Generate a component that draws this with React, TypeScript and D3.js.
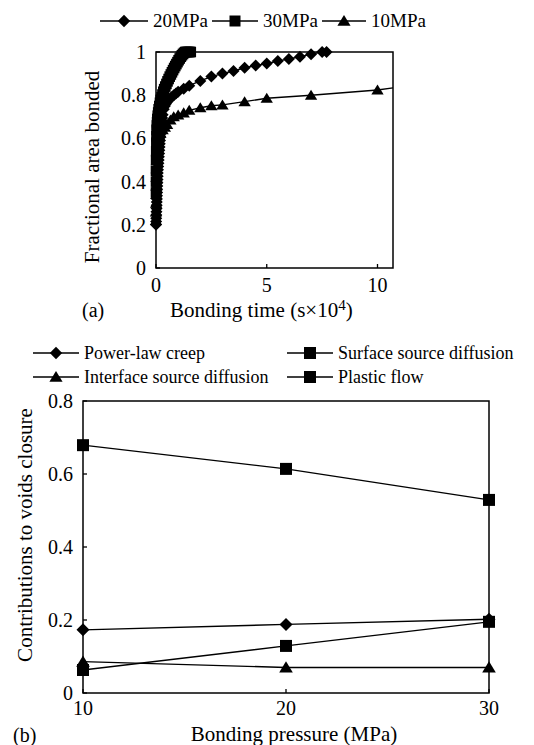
import React from "react";
import * as d3 from "d3";

// ---------- Panel (a) data ----------
const t20 = [0, 0.005, 0.01, 0.015, 0.02, 0.025, 0.03, 0.035, 0.04, 0.045, 0.05, 0.055, 0.06, 0.065, 0.07, 0.075, 0.08, 0.09, 0.1, 0.11, 0.12, 0.13, 0.14, 0.15, 0.16, 0.17, 0.18, 0.19, 0.2, 0.215, 0.23, 0.245, 0.26, 0.28, 0.3, 0.35, 0.4, 0.45, 0.5, 0.6, 0.7, 0.8, 0.9, 1.0, 1.25, 1.5, 2.0, 2.5, 3.0, 3.5, 4.0, 4.5, 5.0, 5.5, 6.0, 6.5, 7.0, 7.5, 7.7];
const f20 = [0.2, 0.215, 0.23, 0.245, 0.26, 0.275, 0.29, 0.305, 0.32, 0.335, 0.35, 0.365, 0.38, 0.395, 0.41, 0.425, 0.44, 0.455, 0.47, 0.485, 0.5, 0.515, 0.53, 0.545, 0.56, 0.575, 0.59, 0.605, 0.62, 0.635, 0.65, 0.665, 0.68, 0.695, 0.71, 0.735, 0.75, 0.76, 0.77, 0.78, 0.79, 0.8, 0.808, 0.816, 0.83, 0.844, 0.866, 0.886, 0.9, 0.912, 0.927, 0.937, 0.947, 0.958, 0.968, 0.978, 0.99, 1.0, 1.0];

const t30 = [0, 0, 0, 0.005, 0.01, 0.015, 0.02, 0.03, 0.04, 0.05, 0.06, 0.08, 0.1, 0.12, 0.15, 0.18, 0.21, 0.25, 0.29, 0.33, 0.37, 0.42, 0.47, 0.52, 0.57, 0.62, 0.67, 0.72, 0.77, 0.82, 0.87, 0.92, 0.97, 1.02, 1.07, 1.12, 1.17, 1.22, 1.27, 1.32, 1.37, 1.42, 1.47, 1.52, 1.57];
const f30 = [0.35, 0.4, 0.45, 0.5, 0.54, 0.58, 0.61, 0.64, 0.66, 0.675, 0.69, 0.705, 0.72, 0.735, 0.75, 0.765, 0.778, 0.79, 0.803, 0.816, 0.828, 0.84, 0.852, 0.864, 0.875, 0.886, 0.896, 0.906, 0.916, 0.926, 0.935, 0.944, 0.953, 0.962, 0.97, 0.978, 0.985, 0.991, 0.996, 1.0, 1.0, 1.0, 1.0, 1.0, 1.0];

const t10 = [0, 0, 0.005, 0.01, 0.015, 0.02, 0.03, 0.04, 0.05, 0.07, 0.1, 0.15, 0.2, 0.3, 0.4, 0.5, 0.65, 0.8, 1.0, 1.25, 1.5, 2.0, 2.5, 3.0, 4.0, 5.0, 7.0, 10.0];
const f10 = [0.22, 0.26, 0.3, 0.34, 0.38, 0.42, 0.46, 0.5, 0.53, 0.56, 0.59, 0.61, 0.625, 0.64, 0.652, 0.665, 0.685, 0.7, 0.708, 0.718, 0.73, 0.742, 0.751, 0.755, 0.77, 0.786, 0.8, 0.824];
// fitted line for 10 MPa continues to the right edge of the axis
const t10LineEnd = [10.7];
const f10LineEnd = [0.834];

const xTicksA = [0, 5, 10];
const yTicksA = [0, 0.2, 0.4, 0.6, 0.8, 1];
const legendA = ["20MPa", "30MPa", "10MPa"];

// ---------- Panel (b) data ----------
const pressures = [10, 20, 30];
const powerLawCreep = [0.173, 0.188, 0.202];
const surfaceSource = [0.063, 0.129, 0.195];
const interfaceSource = [0.086, 0.07, 0.07];
const plasticFlow = [0.679, 0.614, 0.529];
const yTicksB = [0, 0.2, 0.4, 0.6, 0.8];
const legendB = ["Power-law creep", "Surface source diffusion", "Interface source diffusion", "Plastic flow"];

const FONT = "'Liberation Serif', 'Times New Roman', serif";
const TICK = 20;
const TITLE = 21;

type Shape = "diamond" | "square" | "triangle";

function markerPath(shape: Shape, r: number): string {
  if (shape === "diamond") return `M0,${-r}L${r},0L0,${r}L${-r},0Z`;
  if (shape === "square") return `M${-r},${-r}H${r}V${r}H${-r}Z`;
  const h = r * 1.8;
  return `M0,${-h * 0.55}L${r * 1.1},${h * 0.45}L${-r * 1.1},${h * 0.45}Z`;
}

function Marker({ x, y, shape, r }: { x: number; y: number; shape: Shape; r: number }) {
  return <path transform={`translate(${x},${y})`} d={markerPath(shape, r)} fill="#000" />;
}

function LegendItem({ x, y, shape, label, r, lineLen, fs }: { x: number; y: number; shape: Shape; label: string; r: number; lineLen: number; fs: number }) {
  return (
    <g>
      <line x1={x} x2={x + lineLen} y1={y} y2={y} stroke="#000" strokeWidth={1.5} />
      <Marker x={x + lineLen / 2} y={y} shape={shape} r={r} />
      <text x={x + lineLen + 5} y={y + 6} fontSize={fs} fontFamily={FONT}>{label}</text>
    </g>
  );
}

export default function App() {
  // Panel (a)
  const ax = d3.scaleLinear().domain([0, 10.7]).range([156, 393]);
  const ay = d3.scaleLinear().domain([0, 1]).range([268, 52]);
  const lineA = d3.line<[number, number]>().x((d) => ax(d[0])).y((d) => ay(d[1]));
  const zip = (ts: number[], fs: number[]) => ts.map((t, i) => [t, fs[i]] as [number, number]);
  const s20 = zip(t20, f20);
  const s30 = zip(t30, f30);
  const s10 = zip(t10, f10);
  const s10line = s10.concat(zip(t10LineEnd, f10LineEnd));

  // Panel (b)
  const bx = d3.scaleLinear().domain([10, 30]).range([83, 489]);
  const by = d3.scaleLinear().domain([0, 0.8]).range([693, 401]);
  const lineB = d3.line<number>().x((_, i) => bx(pressures[i])).y((d) => by(d));
  const seriesB: { vals: number[]; shape: Shape; r: number }[] = [
    { vals: powerLawCreep, shape: "diamond", r: 6.5 },
    { vals: surfaceSource, shape: "square", r: 6 },
    { vals: interfaceSource, shape: "triangle", r: 6.2 },
    { vals: plasticFlow, shape: "square", r: 6 },
  ];

  return (
    <svg width={534} height={745} style={{ position: "absolute", left: 0, top: 0, background: "#fff" }}>
      <rect width={534} height={745} fill="#fff" />
      {/* ---------- Panel (a) ---------- */}
      <LegendItem x={100} y={21} shape="diamond" r={6.2} label={legendA[0]} lineLen={48} fs={19} />
      <LegendItem x={212} y={21} shape="square" r={5.5} label={legendA[1]} lineLen={46} fs={19} />
      <LegendItem x={322} y={21} shape="triangle" r={6} label={legendA[2]} lineLen={44} fs={19} />

      <rect x={156} y={52} width={237} height={216} fill="none" stroke="#000" strokeWidth={1.5} />
      {xTicksA.map((t) => (
        <g key={"xa" + t}>
          <line x1={ax(t)} x2={ax(t)} y1={268} y2={264} stroke="#000" strokeWidth={1.3} />
          <text x={ax(t)} y={292} textAnchor="middle" fontSize={TICK} fontFamily={FONT}>{t}</text>
        </g>
      ))}
      {yTicksA.map((t) => (
        <g key={"ya" + t}>
          <line x1={156} x2={160} y1={ay(t)} y2={ay(t)} stroke="#000" strokeWidth={1.3} />
          <text x={146} y={ay(t) + 7} textAnchor="end" fontSize={TICK} fontFamily={FONT}>{t}</text>
        </g>
      ))}
      <text transform="translate(99,167) rotate(-90)" textAnchor="middle" fontSize={TITLE} fontFamily={FONT}>Fractional area bonded</text>
      <text x={82} y={317} fontSize={TICK} fontFamily={FONT}>(a)</text>
      <text x={170} y={317} fontSize={TITLE} fontFamily={FONT}>
        Bonding time (s×10<tspan dy={-7} fontSize={15}>4</tspan><tspan dy={7}>)</tspan>
      </text>

      <path d={lineA(s20) || ""} fill="none" stroke="#000" strokeWidth={1.4} />
      <path d={lineA(s30) || ""} fill="none" stroke="#000" strokeWidth={1.4} />
      <path d={lineA(s10line) || ""} fill="none" stroke="#000" strokeWidth={1.4} />
      {s20.map((d, i) => <Marker key={"m20" + i} x={ax(d[0])} y={ay(d[1])} shape="diamond" r={6} />)}
      {s30.map((d, i) => <Marker key={"m30" + i} x={ax(d[0])} y={ay(d[1])} shape="square" r={5.3} />)}
      {s10.map((d, i) => <Marker key={"m10" + i} x={ax(d[0])} y={ay(d[1])} shape="triangle" r={5.6} />)}

      {/* ---------- Panel (b) ---------- */}
      <LegendItem x={33} y={353} shape="diamond" r={6.2} label={legendB[0]} lineLen={46} fs={18} />
      <LegendItem x={287} y={353} shape="square" r={6} label={legendB[1]} lineLen={46} fs={18} />
      <LegendItem x={33} y={377} shape="triangle" r={6} label={legendB[2]} lineLen={46} fs={18} />
      <LegendItem x={287} y={377} shape="square" r={6} label={legendB[3]} lineLen={46} fs={18} />

      <rect x={83} y={401} width={406} height={292} fill="none" stroke="#000" strokeWidth={1.5} />
      {pressures.map((p) => (
        <g key={"xb" + p}>
          <line x1={bx(p)} x2={bx(p)} y1={693} y2={689} stroke="#000" strokeWidth={1.3} />
          <text x={bx(p)} y={715} textAnchor="middle" fontSize={TICK} fontFamily={FONT}>{p}</text>
        </g>
      ))}
      {yTicksB.map((t) => (
        <g key={"yb" + t}>
          <line x1={83} x2={87} y1={by(t)} y2={by(t)} stroke="#000" strokeWidth={1.3} />
          <text x={73} y={by(t) + 7} textAnchor="end" fontSize={TICK} fontFamily={FONT}>{t}</text>
        </g>
      ))}
      <text transform="translate(32,535) rotate(-90)" textAnchor="middle" fontSize={TITLE} fontFamily={FONT}>Contributions to voids closure</text>
      <text x={13} y={742} fontSize={TICK} fontFamily={FONT}>(b)</text>
      <text x={294} y={741} textAnchor="middle" fontSize={TITLE} fontFamily={FONT}>Bonding pressure (MPa)</text>

      {seriesB.map((s, si) => (
        <g key={"sb" + si}>
          <path d={lineB(s.vals) || ""} fill="none" stroke="#000" strokeWidth={1.4} />
          {s.vals.map((v, i) => <Marker key={i} x={bx(pressures[i])} y={by(v)} shape={s.shape} r={s.r} />)}
        </g>
      ))}
    </svg>
  );
}
